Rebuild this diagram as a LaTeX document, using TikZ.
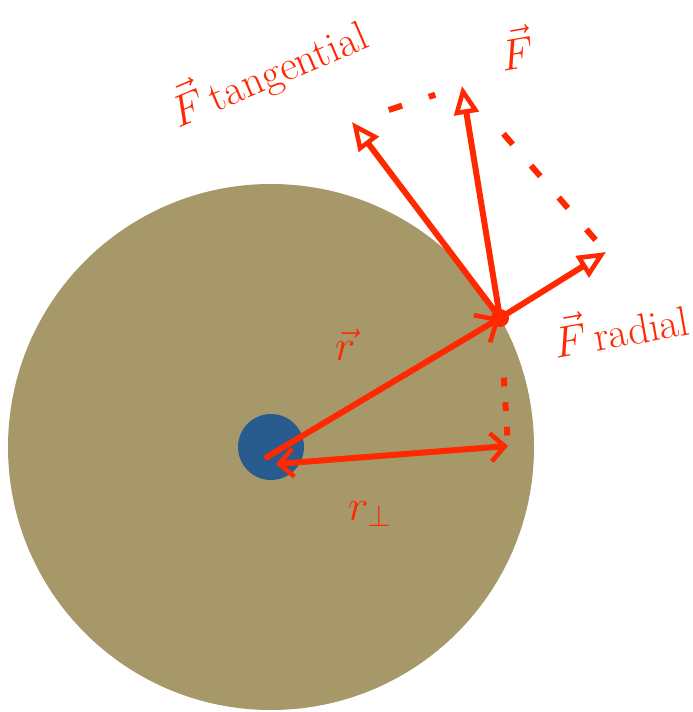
\documentclass[tikz,border=0pt]{standalone}
\usetikzlibrary{arrows.meta}
\definecolor{disc}{RGB}{166,152,104}
\definecolor{hub}{RGB}{40,92,142}
\definecolor{ink}{RGB}{255,40,0}

\begin{document}
\begin{tikzpicture}[
      x=0.02cm, y=-0.02cm,
      force/.style={ink, line width=3.4pt, line cap=round, -{Triangle[open, length=16pt, width=14pt, line width=2.6pt]}},
      radius vec/.style={ink, line width=3.4pt, line cap=round},
      guide/.style={ink, line width=3.4pt, dash pattern=on 8pt off 16pt},
      lbl/.style={text=ink, font=\fontsize{24}{28}\selectfont, inner sep=1pt}
    ]
    \useasboundingbox (0,0) rectangle (692,712);
    \fill[disc] (271,447) circle[radius=263];
    \fill[hub] (271,447) circle[radius=33];

    \coordinate (O) at (267,457);
    \coordinate (P) at (500,318);
    \coordinate (Ftan) at (352,122);
    \coordinate (F) at (462,86);
    \coordinate (Frad) at (606,252);
    \coordinate (Q) at (508,446);
    \coordinate (Op) at (276,464);

    \draw[radius vec, -{Straight Barb[length=10pt, width=18pt, line width=2.6pt]}] (O) -- (P);
    \draw[radius vec, {Straight Barb[length=8pt, width=16pt, line width=2.6pt]}-{Straight Barb[length=8pt, width=16pt, line width=2.6pt]}] (Op) -- (Q);
    \draw[guide, dash pattern=on 5pt off 9pt, shorten <=34pt] (P) -- (Q);

    \draw[force] (P) -- (Ftan);
    \draw[force] (P) -- (F);
    \draw[force] (P) -- (Frad);
    \draw[guide, shorten <=22pt, shorten >=16pt] (Ftan) -- (F);
    \draw[guide, shorten <=36pt, shorten >=8pt] (F) -- (Frad);
    \fill[ink] (P) circle[radius=9];

    \node[lbl, rotate=23] (tanlbl) at (268,72) {$\vec{F}$\,tangential};
    \node[lbl, rotate=10] (flbl) at (516,48) {$\vec{F}$};
    \node[lbl, rotate=10] (radlbl) at (620,326) {$\vec{F}$\,radial};
    \node[lbl] (rlbl) at (345,345) {$\vec{r}$};
    \node[lbl] (rplbl) at (370,514) {$r_\perp$};
  \end{tikzpicture}
\end{document}
